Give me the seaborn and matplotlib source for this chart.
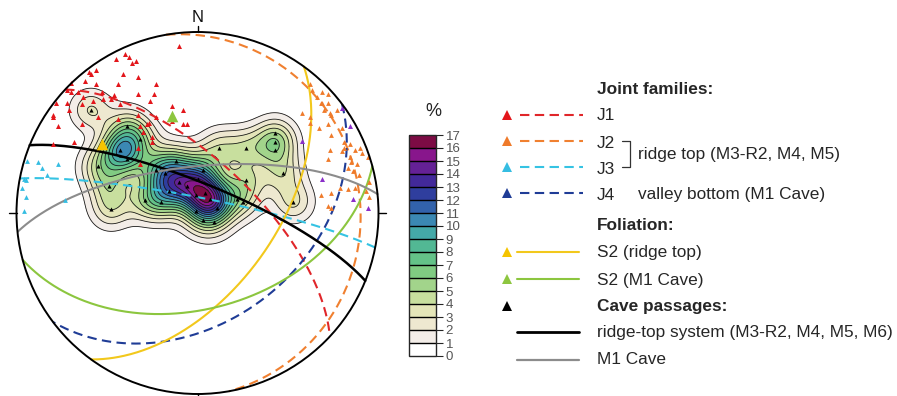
import numpy as np
import matplotlib
matplotlib.use('Agg')
import matplotlib.pyplot as plt
from matplotlib.colors import ListedColormap, BoundaryNorm
from matplotlib.cm import ScalarMappable
from matplotlib.patches import Circle
import seaborn as sns

sns.set_style('white')
plt.rcParams['font.family'] = ['Liberation Sans', 'DejaVu Sans']

## planes (dip direction, dip in degrees)
plane_names = ['J1', 'J2', 'J3', 'J4', 'S2 (ridge top)', 'S2 (M1 Cave)',
               'ridge-top system', 'M1 Cave']
plane_dipdir = [43, 80, 11, 143, 126, 165, 22, 354]
plane_dip = [66, 11, 83, 40, 55, 46, 76.5, 69]
plane_colors = ['#e0262a', '#f08030', '#35c3e3', '#1f3c96',
                '#f2c81c', '#8cc63f', '#000000', '#8c8c8c']
plane_dashed = [True, True, True, True, False, False, False, False]

## measured points on the net (x = east, y = north, primitive radius 1)
j1_x = [-0.10, -0.40, -0.38, -0.45, -0.36, -0.34, -0.56, -0.60, -0.59, -0.62,
        -0.41, -0.33, -0.23, -0.44, -0.56, -0.70, -0.72, -0.70, -0.66, -0.53,
        -0.46, -0.24, -0.33, -0.63, -0.58, -0.52, -0.48, -0.26, -0.78, -0.72,
        -0.43, -0.64, -0.14, -0.08, -0.71, -0.80, -0.80, -0.55, -0.44, -0.33,
        -0.23, -0.14, -0.08, -0.06, -0.77, -0.64, -0.32, -0.28, -0.80, -0.68,
        -0.25, -0.33, -0.27, -0.30, -0.25, -0.32]
j1_y = [0.92, 0.88, 0.86, 0.85, 0.83, 0.84, 0.79, 0.78, 0.77, 0.73,
        0.77, 0.75, 0.71, 0.71, 0.71, 0.72, 0.68, 0.67, 0.67, 0.67,
        0.65, 0.66, 0.66, 0.64, 0.62, 0.63, 0.63, 0.62, 0.61, 0.61,
        0.60, 0.60, 0.59, 0.57, 0.57, 0.54, 0.53, 0.53, 0.52, 0.54,
        0.53, 0.51, 0.49, 0.49, 0.48, 0.49, 0.48, 0.49, 0.38, 0.39,
        0.42, 0.36, 0.50, 0.45, 0.39, 0.27]
j2_x = [0.62, 0.63, 0.69, 0.72, 0.66, 0.68, 0.69, 0.72, 0.77, 0.70,
        0.73, 0.58, 0.62, 0.62, 0.74, 0.67, 0.72, 0.80, 0.74, 0.81,
        0.84, 0.73, 0.80, 0.81, 0.87, 0.90, 0.94, 0.91, 0.72, 0.84,
        0.85, 0.88, 0.83, 0.86, 0.89, 0.95, 0.79, 0.83, 0.87, 0.68,
        0.74, 0.93, 0.95, 0.72, 0.74]
j2_y = [0.71, 0.68, 0.67, 0.66, 0.64, 0.61, 0.61, 0.61, 0.57, 0.57,
        0.55, 0.55, 0.53, 0.50, 0.54, 0.47, 0.49, 0.47, 0.43, 0.39,
        0.38, 0.35, 0.34, 0.36, 0.35, 0.36, 0.31, 0.33, 0.30, 0.31,
        0.28, 0.27, 0.25, 0.23, 0.21, 0.17, 0.14, 0.13, 0.14, 0.10,
        0.11, 0.12, 0.09, 0.04, 0.03]
j3_x = [-0.94, -0.88, -0.86, -0.77, -0.83, -0.96, -0.95, -0.97, -0.73, -0.96, -0.95]
j3_y = [0.29, 0.28, 0.25, 0.27, 0.21, 0.19, 0.18, 0.14, 0.07, 0.01, 0.09]
j4_x = [0.80, 0.84, 0.58, 0.69, 0.86, 0.94]
j4_y = [0.58, 0.48, 0.40, 0.19, 0.08, 0.03]
cave_x = [-0.59, -0.39, -0.43, -0.39, -0.55, -0.32, -0.12, -0.23, 0.12, 0.27,
          0.43, 0.43, 0.43, 0.47, 0.03, -0.49, -0.16, -0.29, -0.20, -0.48,
          -0.06, 0.07, -0.01, 0.04, -0.01, 0.03, 0.09, 0.11, 0.25, 0.27,
          0.53, 0.22, 0.00, -0.10, -0.18]
cave_y = [0.57, 0.48, 0.35, 0.30, 0.26, 0.41, 0.29, 0.24, 0.36, 0.36,
          0.44, 0.39, 0.35, 0.22, 0.24, 0.15, 0.12, 0.07, 0.06, 0.02,
          0.15, 0.08, 0.10, 0.11, 0.01, -0.04, -0.05, 0.03, 0.06, 0.18,
          0.06, 0.08, 0.19, 0.17, 0.22]
cave_count = [2, 2, 4, 2, 2, 2, 2, 2, 2, 2,
              1, 2, 1, 2, 2, 2, 2, 2, 2, 2,
              2, 6, 1, 1, 1, 1, 1, 1, 1, 2,
              2, 1, 2, 2, 2]

## density colour bands 0-1 ... 16-17 %
band_colors = ['#ffffff', '#f3ede8', '#eee8d0', '#e4e5b8', '#c8df9e', '#a2d48b',
               '#80cb82', '#64c288', '#52b894', '#44a9a8', '#3b88b3', '#3262ab',
               '#2f3e9e', '#42299a', '#652196', '#88168c', '#7c0b44']


def project(east, north, down):
    # equal-area (Schmidt) lower hemisphere
    f = 1.0 / np.sqrt(1.0 + down)
    return east * f, north * f


def great_circle(dd, dip):
    a = np.linspace(0, np.pi, 300)
    ddr, dpr = np.radians(dd), np.radians(dip)
    s = np.array([np.sin(ddr - np.pi / 2), np.cos(ddr - np.pi / 2), 0.0])
    d = np.array([np.cos(dpr) * np.sin(ddr), np.cos(dpr) * np.cos(ddr), np.sin(dpr)])
    v = np.outer(np.cos(a), s) + np.outer(np.sin(a), d)
    return project(v[:, 0], v[:, 1], v[:, 2])


def pole(dd, dip):
    t, p = np.radians(dd + 180), np.radians(90 - dip)
    return project(np.cos(p) * np.sin(t), np.cos(p) * np.cos(t), np.sin(p))


fig = plt.figure(figsize=(8.97, 3.96), dpi=100)
ax = fig.add_axes([16.5 / 897, 2 / 396, 362 / 897, 362 / 396])
ax.set_xlim(-1, 1)
ax.set_ylim(-1, 1)
ax.axis('off')

## smoothed counting density (%) of cave passages
sigma = 0.08
g = np.linspace(-1, 1, 501)
X, Y = np.meshgrid(g, g)
w = np.array(cave_count, float)
D = np.zeros_like(X)
for cx, cy, cw in zip(cave_x, cave_y, w):
    D += cw * np.exp(-((X - cx) ** 2 + (Y - cy) ** 2) / (2 * sigma ** 2))
D = 100 * D / w.sum()

levels = list(range(18)) + [100]
circ = Circle((0, 0), 1, transform=ax.transData)
cf = ax.contourf(X, Y, D, levels=levels, colors=band_colors + [band_colors[-1]], zorder=1)
cf.set_clip_path(circ)
cl = ax.contour(X, Y, D, levels=list(range(1, 18)), colors='#1a1a1a', linewidths=0.6, zorder=2)

## great circles
for dd, dip, col, dashed in zip(plane_dipdir, plane_dip, plane_colors, plane_dashed):
    gx, gy = great_circle(dd, dip)
    ls = (0, (4.5, 2.6)) if dashed else '-'
    ax.plot(gx, gy, color=col, lw=1.5 if col != '#000000' else 1.8, ls=ls, zorder=3)

## measured points
sns.scatterplot(x=j1_x, y=j1_y, marker='^', s=13, color='#e3161b', linewidth=0, ax=ax, zorder=4)
sns.scatterplot(x=j2_x, y=j2_y, marker='^', s=12, color='#ef7a2a', linewidth=0, ax=ax, zorder=4)
sns.scatterplot(x=j3_x, y=j3_y, marker='^', s=12, color='#35bde2', linewidth=0, ax=ax, zorder=4)
sns.scatterplot(x=j4_x, y=j4_y, marker='^', s=13, color='#8a2fc9', linewidth=0, ax=ax, zorder=4)
sns.scatterplot(x=cave_x, y=cave_y, marker='^', s=9, color='black', linewidth=0, ax=ax, zorder=4)
for i, col in [(4, '#f5c400'), (5, '#8dc63f')]:
    px, py = pole(plane_dipdir[i], plane_dip[i])
    sns.scatterplot(x=[px], y=[py], marker='^', s=70, color=col, linewidth=0, ax=ax, zorder=5)

## primitive circle, ticks, north
ax.add_patch(Circle((0, 0), 1, fill=False, lw=1.4, color='black', zorder=6, clip_on=False))
for tx, ty in [([0, 0], [1, 1.035]), ([1, 1.04], [0, 0]), ([-1.04, -1], [0, 0]), ([0, 0], [-1, -1.03])]:
    ax.plot(tx, ty, color='black', lw=1.0, clip_on=False, zorder=6)
ax.text(0, 1.08, 'N', ha='center', va='center', fontsize=12, color='#111')

## colour bar
cax = fig.add_axes([409 / 897, 40 / 396, 27 / 897, 221 / 396])
sm = ScalarMappable(norm=BoundaryNorm(range(18), 17), cmap=ListedColormap(band_colors))
cb = fig.colorbar(sm, cax=cax, drawedges=True, ticks=range(18))
cb.outline.set_linewidth(1.0)
cb.dividers.set_linewidth(1.0)
cb.dividers.set_color('black')
cax.tick_params(length=5, width=0.8, labelsize=9.5, labelcolor='#555', pad=2)
fig.text(433 / 897, 1 - 112 / 396, '%', ha='center', va='center', fontsize=13, color='#222')

## legend
lax = fig.add_axes([0, 0, 1, 1])
lax.set_xlim(0, 897)
lax.set_ylim(396, 0)
lax.axis('off')
txt = dict(fontsize=12.4, color='#262626', va='center', ha='left')
heads = [('Joint families:', 89), ('Foliation:', 225), ('Cave passages:', 306)]
for t, y in heads:
    lax.text(597, y, t, fontweight='bold', **txt)

leg_rows = [(0, 115, 116, '#e3161b'), (1, 141, 143, '#ef7a2a'), (2, 167, 170, '#35bde2'),
            (3, 193, 196, '#1f3c96'), (4, 252, 253, '#f5c400'), (5, 279, 280, '#8dc63f')]
for i, ym, yt, mcol in leg_rows:
    lax.plot([507], [ym], marker='^', ms=7, color=mcol, mew=0, ls='none')
    if plane_dashed[i]:
        lax.plot([520, 583], [ym, ym], color=plane_colors[i], lw=1.5, ls=(0, (4.5, 2.6)))
    else:
        lax.plot([517, 579], [ym, ym], color=plane_colors[i], lw=1.5)
    lax.text(597, yt, plane_names[i], **txt)

lax.plot([507], [306], marker='^', ms=7, color='black', mew=0, ls='none')
lax.plot([517, 579], [332, 332], color='black', lw=2.0)
lax.text(597, 333, 'ridge-top system (M3-R2, M4, M5, M6)', **txt)
lax.plot([517, 579], [360, 360], color='#8c8c8c', lw=1.6)
lax.text(597, 360, 'M1 Cave', **txt)

lax.plot([622, 630, 630, 622], [141, 141, 167, 167], color='#333', lw=0.9)
lax.text(638, 154, 'ridge top (M3-R2, M4, M5)', **txt)
lax.text(638, 195, 'valley bottom (M1 Cave)', **txt)

fig.savefig('out.png', dpi=100)
